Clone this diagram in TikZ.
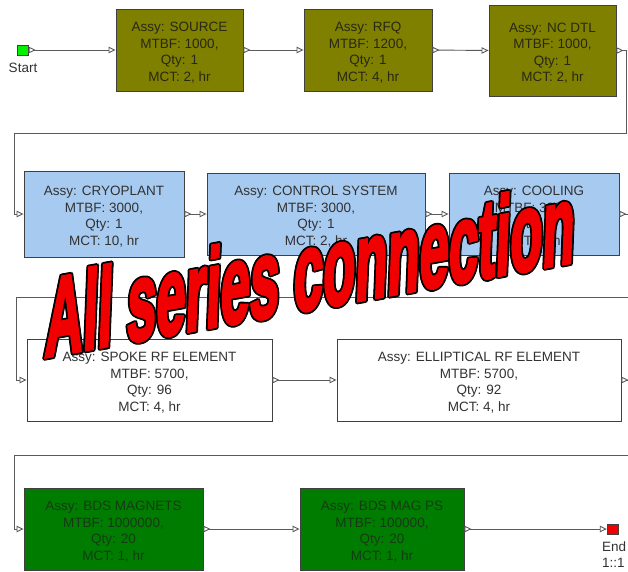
\documentclass[tikz,border=0pt]{standalone}
\usepackage{fontspec}
\setmainfont{Liberation Sans}
\newfontfamily\wordart{Liberation Sans}[UprightFont={* Bold}, FakeBold=3.5]
\usetikzlibrary{arrows.meta}
\newcommand\boxtop{\rule{0pt}{15pt}}
\definecolor{olivebox}{RGB}{128,128,0}
\definecolor{bluebox}{RGB}{166,202,240}
\definecolor{greenbox}{RGB}{0,124,0}
\definecolor{bordercol}{RGB}{64,64,64}
\definecolor{linecol}{RGB}{90,90,90}
\definecolor{txtgray}{RGB}{50,50,50}
\definecolor{txtolive}{RGB}{40,40,20}
\definecolor{txtgreen}{RGB}{20,60,20}
\definecolor{startgreen}{RGB}{0,240,0}
\definecolor{endred}{RGB}{240,0,0}
\definecolor{wordred}{RGB}{240,0,0}
\tikzset{
  blk/.style={draw=bordercol, line width=0.9pt, inner sep=0pt, align=center,
    font=\fontsize{13.5}{16.5}\selectfont, text=txtgray},
  oliveblk/.style={blk, fill=olivebox, text=txtolive},
  blueblk/.style={blk, fill=bluebox},
  whiteblk/.style={blk, fill=white},
  greenblk/.style={blk, fill=greenbox, text=txtgreen},
  term/.style={draw=bordercol, line width=0.4pt, minimum width=11pt, minimum height=10pt, inner sep=0pt},
  lbl/.style={inner sep=0pt, font=\fontsize{13.5}{16}\selectfont, text=txtgray, align=left},
  conn/.style={draw=linecol, line width=0.9pt,
    {Triangle[open,reversed,length=7pt,width=6.5pt]}-{Triangle[open,length=7pt,width=6.5pt]}},
  wa/.style={anchor=base west, inner sep=0pt, font=\wordart\fontsize{112}{112}\selectfont}
}
\begin{document}
\begin{tikzpicture}[x=1pt,y=-1pt]
\useasboundingbox (0,0) rectangle (628,571);
\fill[white] (0,0) rectangle (628,571);

% terminals
\node[term, fill=startgreen] (start) at (23,50) {};
\node[lbl, anchor=north] (startlbl) at (23,63) {Start};
\node[term, fill=endred] (end) at (612.5,529) {};
\node[lbl, anchor=north west] (endlbl) at (602,542) {End\\1::1};

% row 1
\node[oliveblk, minimum width=127pt, minimum height=82pt] (src) at (179.5,50) {\boxtop Assy: SOURCE\\MTBF: 1000,\\Qty: 1\\MCT: 2, hr};
\node[oliveblk, minimum width=128pt, minimum height=82pt] (rfq) at (368,50) {\boxtop Assy: RFQ\\MTBF: 1200,\\Qty: 1\\MCT: 4, hr};
\node[oliveblk, minimum width=127pt, minimum height=91pt] (nc) at (552.5,50.5) {\boxtop Assy: NC DTL\\MTBF: 1000,\\Qty: 1\\MCT: 2, hr};

% row 2
\node[blueblk, minimum width=160pt, minimum height=86pt] (cryo) at (104,214) {\boxtop Assy: CRYOPLANT\\MTBF: 3000,\\Qty: 1\\MCT: 10, hr};
\node[blueblk, minimum width=218pt, minimum height=82pt] (ctrl) at (316,214) {\boxtop Assy: CONTROL SYSTEM\\MTBF: 3000,\\Qty: 1\\MCT: 2, hr};
\node[blueblk, minimum width=170pt, minimum height=82pt] (cool) at (534,214) {\boxtop Assy: COOLING\\MTBF: 3000,\\Qty: 1\\MCT: 2, hr};

% row 3
\node[whiteblk, minimum width=245pt, minimum height=82pt] (spoke) at (149.5,380) {\boxtop Assy: SPOKE RF ELEMENT\\MTBF: 5700,\\Qty: 96\\MCT: 4, hr};
\node[whiteblk, minimum width=284pt, minimum height=82pt] (ell) at (479,380) {\boxtop Assy: ELLIPTICAL RF ELEMENT\\MTBF: 5700,\\Qty: 92\\MCT: 4, hr};

% row 4
\node[greenblk, minimum width=179pt, minimum height=82pt] (bdsm) at (113.5,529) {\boxtop Assy: BDS MAGNETS\\MTBF: 1000000,\\Qty: 20\\MCT: 1, hr};
\node[greenblk, minimum width=164pt, minimum height=82pt] (bdsp) at (382,529) {\boxtop Assy: BDS MAG PS\\MTBF: 100000,\\Qty: 20\\MCT: 1, hr};

% bend points
\coordinate (b1a) at (626,50.5);
\coordinate (b1b) at (14,133);
\coordinate (b2a) at (629,214);
\coordinate (b2b) at (16,297);
\coordinate (b3a) at (629,380);
\coordinate (b3b) at (14,455);

% connectors
\path[conn] (start.east) -- (src.west);
\path[conn] (src.east) -- (rfq.west);
\path[conn] (rfq.east) -- (nc.west);
\path[conn] (nc.east) -- (b1a) |- (b1b) |- (cryo.west);
\path[conn] (cryo.east) -- (ctrl.west);
\path[conn] (ctrl.east) -- (cool.west);
\path[conn] (cool.east) -- (b2a) |- (b2b) |- (spoke.west);
\path[conn] (spoke.east) -- (ell.west);
\path[conn] (ell.east) -- (b3a) |- (b3b) |- (bdsm.west);
\path[conn] (bdsm.east) -- (bdsp.west);
\path[conn] (bdsp.east) -- (end.west);

% word art title
\foreach \dx/\dy [count=\i] in {1.8/0,-1.8/0,0/1.8,0/-1.8,1.3/1.3,1.3/-1.3,-1.3/1.3,-1.3/-1.3}{
  \begin{scope}[cm={0.47,0.0846,0.04,1,(44+\dx,357+\dy)}, transform shape]
    \node[wa, text=black] (tout\i) at (0,0) {All series connection};
  \end{scope}
}
\begin{scope}[cm={0.47,0.0846,0.04,1,(44,357)}, transform shape]
  \node[wa, text=wordred] (title) at (0,0) {All series connection};
\end{scope}
\end{tikzpicture}
\end{document}
